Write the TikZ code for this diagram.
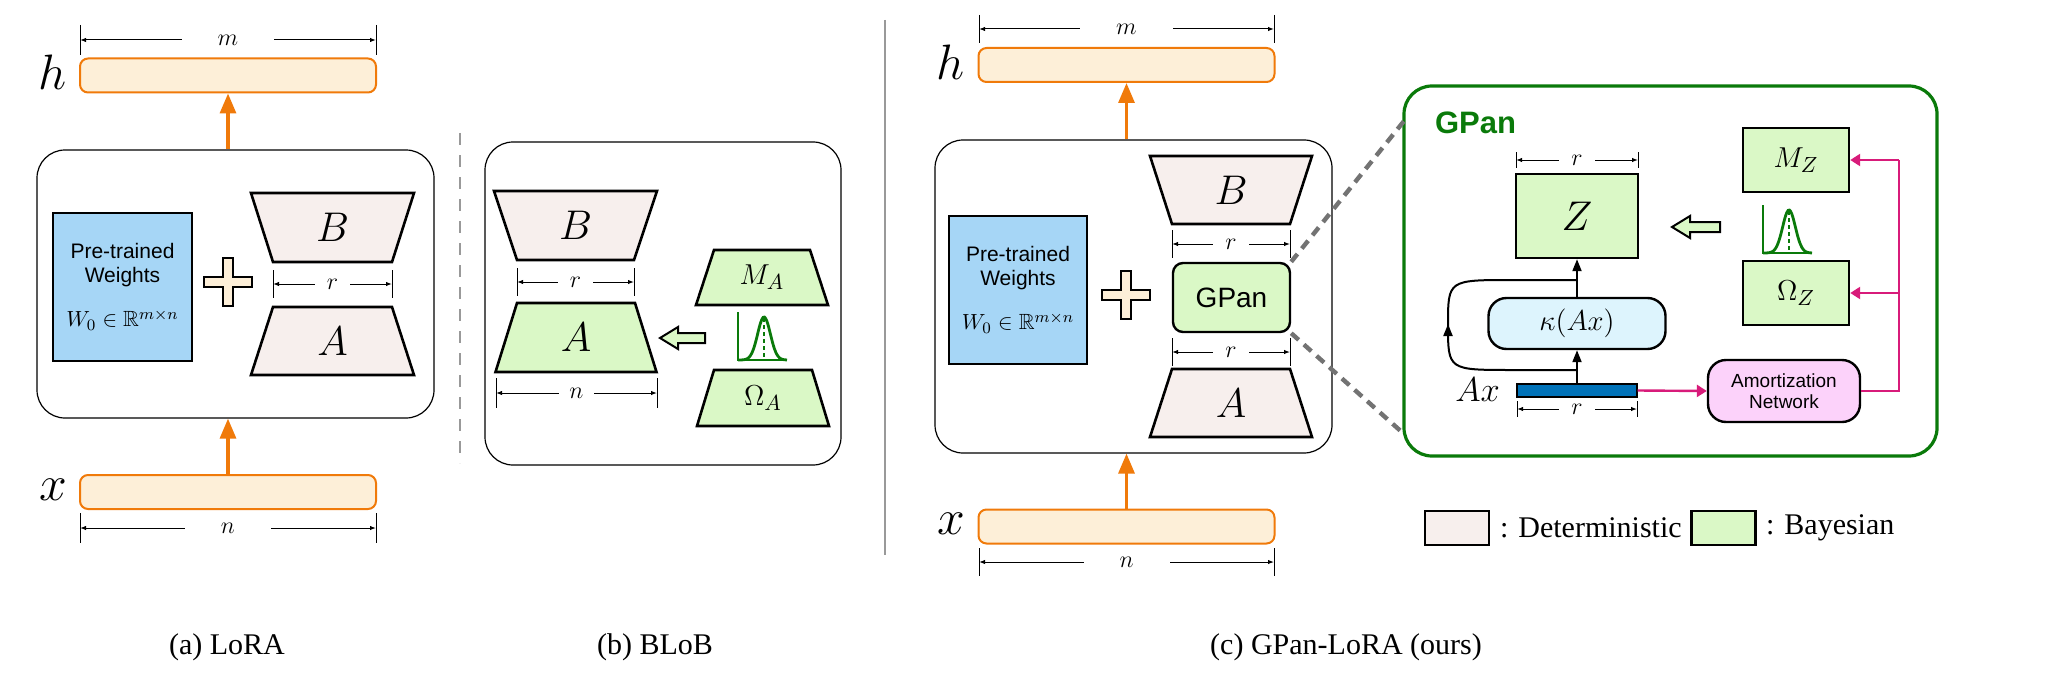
\documentclass[tikz,border=0pt]{standalone}
\usepackage{amssymb}
\usepackage{fontspec}
\setmainfont{Liberation Serif}
\newfontfamily\hvfont{Liberation Sans}
\usetikzlibrary{arrows.meta}

\definecolor{orng}{HTML}{F07A0A}
\definecolor{orngfill}{HTML}{FDEFD8}
\definecolor{detfill}{HTML}{F7EFED}
\definecolor{bayfill}{HTML}{DAF8C6}
\definecolor{wfill}{HTML}{A6D6F6}
\definecolor{kapfill}{HTML}{DDF4FD}
\definecolor{amfill}{HTML}{FCD2FA}
\definecolor{mgnt}{HTML}{D81B7A}
\definecolor{dgreen}{HTML}{0A7A0A}
\definecolor{axblue}{HTML}{0072B8}

\tikzset{
  vecbox/.style={draw=orng,line width=1pt,fill=orngfill,rounded corners=4pt,
    minimum width=148pt,minimum height=17pt,inner sep=0pt},
  outer/.style={draw,line width=0.6pt,rounded corners=14pt,inner sep=0pt},
  orangearr/.style={orng,line width=1.6pt,-{Triangle[width=8pt,length=10pt]}},
  trapline/.style={line width=1.3pt},
  dimarr/.style={line width=0.5pt,{Latex[length=3pt,width=2.2pt]}-{Latex[length=3pt,width=2.2pt]}},
  sq/.style={draw,line width=1.2pt,fill=bayfill,inner sep=0pt},
  blk/.style={line width=1pt,-{Triangle[width=4.5pt,length=6pt]}},
  pink/.style={mgnt,line width=1.2pt},
  pinkarr/.style={pink,-{Triangle[width=6pt,length=5pt]}},
  caption/.style={font=\fontsize{15}{17}\selectfont}
}

%trapezoid: name, center x, top y, bottom y, half top, half bottom, fill, label
\newcommand\trap[8]{%
  \draw[trapline,fill=#7] ({#2-#5},#3) -- ({#2+#5},#3) -- ({#2+#6},#4) -- ({#2-#6},#4) -- cycle;
  \node[font=\fontsize{21}{23}\selectfont] (#1) at (#2,{(#3+#4)/2}) {#8};}
%dimension: x1, x2, y, tick half, label, gap
\newcommand\dimlab[6]{%
  \draw[line width=0.4pt] (#1,{#3-#4}) -- (#1,{#3+#4}) (#2,{#3-#4}) -- (#2,{#3+#4});
  \draw[dimarr] (#1,#3) -- (#2,#3) node[midway,fill=white,inner xsep=#6,inner ysep=0pt,
    font=\fontsize{13}{14}\selectfont] {$#5$};}
%gaussian: axis x, base y
\newcommand\gauss[2]{%
  \draw[dgreen,line width=1.4pt] (#1,{#2-48}) -- (#1,#2) -- ({#1+49},#2);
  \draw[dgreen,line width=1.4pt,smooth] plot[domain={#1}:{#1+49},samples=40]
    (\x,{#2-43*exp(-((\x-#1-26)/9)^2)});
  \draw[dgreen,line width=0.6pt,dash pattern=on 2pt off 1.5pt] ({#1+26},{#2-42}) -- ({#1+26},#2);}
%hollow arrow: tip x, y, tail x
\newcommand\holarrow[3]{%
  \draw[line width=1pt,fill=bayfill] (#1,#2) -- ({#1+18},{#2-11}) -- ({#1+18},{#2-5})
    -- (#3,{#2-5}) -- (#3,{#2+5}) -- ({#1+18},{#2+5}) -- ({#1+18},{#2+11}) -- cycle;}
%plus sign at x, y
\newcommand\plussign[2]{%
  \draw[line width=1pt,fill=orngfill] ({#1-5},{#2-24}) -- ({#1+5},{#2-24}) -- ({#1+5},{#2-5})
    -- ({#1+24},{#2-5}) -- ({#1+24},{#2+5}) -- ({#1+5},{#2+5}) -- ({#1+5},{#2+24})
    -- ({#1-5},{#2+24}) -- ({#1-5},{#2+5}) -- ({#1-24},{#2+5}) -- ({#1-24},{#2-5})
    -- ({#1-5},{#2-5}) -- cycle;}

\begin{document}
\begin{tikzpicture}[x=0.5pt,y=-0.5pt]
  \useasboundingbox (0,0) rectangle (2060,690);

  %(a) LoRA
  \node[vecbox] (hA) at (228,75.5) {};
  \node[font=\fontsize{24}{26}\selectfont,anchor=east] (hlA) at (74,72) {$h$};
  \dimlab{80}{376}{40}{15}{m}{18pt}
  \node[outer,minimum width=198.5pt,minimum height=134pt] (outA) at (235.5,284) {};
  \node[draw,line width=1.2pt,fill=wfill,minimum width=69.5pt,minimum height=74pt,
    align=center,font=\hvfont\fontsize{10.5}{12}\selectfont] (preA) at (122.5,287)
    {Pre-trained\\Weights\\[10pt]{\normalfont\fontsize{11}{12}\selectfont$W_0\in\mathbb{R}^{m\times n}$}};
  \plussign{228}{282}
  \trap{BA}{332.5}{193}{262}{81.5}{59.5}{detfill}{$B$}
  \dimlab{273}{392}{284}{14}{r}{6pt}
  \trap{AA}{332.5}{307}{375}{59.5}{81.5}{detfill}{$A$}
  \node[vecbox] (xA) at (228,492) {};
  \node[font=\fontsize{24}{26}\selectfont,anchor=east] (xlA) at (74,490) {$x$};
  \dimlab{80}{376}{528}{15}{n}{18pt}
  \draw[orangearr] (xA.north) -- (xA.north |- outA.south);
  \draw[orangearr] (hA.south |- outA.north) -- (hA.south);
  \draw[gray!80,line width=0.8pt,dash pattern=on 6pt off 5pt] (460,133) -- (460,463);

  %(b) BLoB
  \node[outer,minimum width=178pt,minimum height=161.5pt] (outB) at (663,303.5) {};
  \trap{BB}{575.5}{191}{260}{81.5}{58.5}{detfill}{$B$}
  \dimlab{517}{634}{282}{14}{r}{6pt}
  \trap{AB}{576}{303}{372}{59}{80.5}{bayfill}{$A$}
  \dimlab{496}{657}{393}{15}{n}{5pt}
  \holarrow{660}{338}{705}
  \trap{MA}{762}{250}{305}{48}{66}{bayfill}{\fontsize{15}{16}\selectfont$M_A$}
  \gauss{738}{360}
  \trap{OA}{763}{370}{426}{49}{66}{bayfill}{\fontsize{15}{16}\selectfont$\Omega_A$}

  %separator
  \draw[gray!80,line width=0.8pt] (885,20) -- (885,555);

  %(c) GPan-LoRA
  \node[vecbox] (hC) at (1126.5,65) {};
  \node[font=\fontsize{24}{26}\selectfont,anchor=east] (hlC) at (972,62) {$h$};
  \dimlab{979}{1274}{29}{14}{m}{18pt}
  \node[outer,minimum width=198.5pt,minimum height=156.5pt] (outC) at (1133.5,296.5) {};
  \node[draw,line width=1.2pt,fill=wfill,minimum width=69pt,minimum height=74pt,
    align=center,font=\hvfont\fontsize{10.5}{12}\selectfont] (preC) at (1018,290)
    {Pre-trained\\Weights\\[10pt]{\normalfont\fontsize{11}{12}\selectfont$W_0\in\mathbb{R}^{m\times n}$}};
  \plussign{1126}{295}
  \trap{BC}{1231}{156}{224}{81}{59}{detfill}{$B$}
  \dimlab{1172}{1290}{244}{14}{r}{6pt}
  \node[draw,line width=1.2pt,fill=bayfill,rounded corners=5pt,minimum width=58.5pt,
    minimum height=34.5pt,font=\hvfont\fontsize{14}{15}\selectfont] (gpC) at (1231.5,297.5) {GPan};
  \dimlab{1172}{1290}{352}{14}{r}{6pt}
  \trap{AC}{1231}{369}{437}{59}{81}{detfill}{$A$}
  \node[vecbox] (xC) at (1126.5,526.5) {};
  \node[font=\fontsize{24}{26}\selectfont,anchor=east] (xlC) at (972,524) {$x$};
  \dimlab{979}{1274}{562}{14}{n}{18pt}
  \draw[orangearr] (xC.north) -- (xC.north |- outC.south);
  \draw[orangearr] (hC.south |- outC.north) -- (hC.south);

  %zoom panel
  \node[draw=dgreen,line width=1.6pt,rounded corners=14pt,minimum width=266.5pt,
    minimum height=185pt,inner sep=0pt] (pan) at (1670.5,271) {};
  \coordinate (zt) at (1404,121);
  \coordinate (zb) at (1404,434);
  \draw[gray!90!black,line width=2.2pt,dash pattern=on 5pt off 3.5pt] (gpC.north east) -- (zt);
  \draw[gray!90!black,line width=2.2pt,dash pattern=on 5pt off 3.5pt] (gpC.south east) -- (zb);
  \node[anchor=west,text=dgreen,font=\hvfont\bfseries\fontsize{15.5}{17}\selectfont] (title) at (1428,123) {GPan};
  \dimlab{1516}{1638}{160}{8}{r}{6pt}
  \node[sq,minimum width=61pt,minimum height=42pt,font=\fontsize{21}{23}\selectfont] (Z) at (1577,216) {$Z$};
  \holarrow{1672}{227}{1720}
  \gauss{1763}{253}
  \node[sq,minimum width=53pt,minimum height=32pt,font=\fontsize{15}{16}\selectfont] (MZ) at (1796,160) {$M_Z$};
  \node[sq,minimum width=53pt,minimum height=32pt,font=\fontsize{15}{16}\selectfont] (OZ) at (1796,293) {$\Omega_Z$};
  \node[draw,line width=1.2pt,fill=kapfill,rounded corners=9pt,minimum width=88.5pt,
    minimum height=25.5pt,font=\fontsize{14}{15}\selectfont] (kap) at (1577,323.5) {$\kappa(Ax)$};
  \node[draw,line width=0.6pt,fill=axblue,minimum width=60pt,minimum height=6.5pt,inner sep=0pt] (Ax) at (1577,390.5) {};
  \node[anchor=east,font=\fontsize{17}{18}\selectfont] (Axl) at (1507,390) {$Ax$};
  \dimlab{1517}{1637}{409}{8}{r}{6pt}
  \node[draw,line width=1.2pt,fill=amfill,rounded corners=9pt,minimum width=76pt,
    minimum height=31pt,align=center,font=\hvfont\fontsize{9.5}{10.5}\selectfont] (am) at (1784,391)
    {Amortization\\Network};
  \draw[blk] (Ax.north) -- (kap.south);
  \draw[blk] (kap.north) -- (Z.south);
  %skip connection
  \coordinate (sk1) at (1577,370);
  \coordinate (sk2) at (1577,280);
  \draw[line width=1pt] (sk1) -- (1512,370) .. controls (1448,370) and (1448,370) .. (1448,325)
    .. controls (1448,280) and (1448,280) .. (1512,280) -- (sk2);
  \draw[line width=1pt,-{Triangle[width=4.5pt,length=6pt]}] (1448,334) -- (1448,324);
  \draw[pinkarr] (Ax.east) -- (am.west);
  \coordinate (pr) at (1899,391);
  \draw[pink] (am.east) -- (pr) -- (1899,160);
  \draw[pinkarr] (1899,160) -- (MZ.east);
  \draw[pinkarr] (1899,293) -- (OZ.east);

  %legend
  \node[draw,line width=1.2pt,fill=detfill,minimum width=32pt,minimum height=17pt] (ld) at (1457,528) {};
  \node[anchor=west,font=\fontsize{15}{16}\selectfont] (ldt) at (1493,528) {: Deterministic};
  \node[draw,line width=1.2pt,fill=bayfill,minimum width=32pt,minimum height=17pt] (lb) at (1723.5,528) {};
  \node[anchor=west,font=\fontsize{15}{16}\selectfont] (lbt) at (1759,528) {: Bayesian};

  %captions
  \node[caption] (ca) at (227,647) {(a) LoRA};
  \node[caption] (cb) at (655,647) {(b) BLoB};
  \node[caption] (cc) at (1346,647) {(c) GPan-LoRA (ours)};
\end{tikzpicture}
\end{document}
